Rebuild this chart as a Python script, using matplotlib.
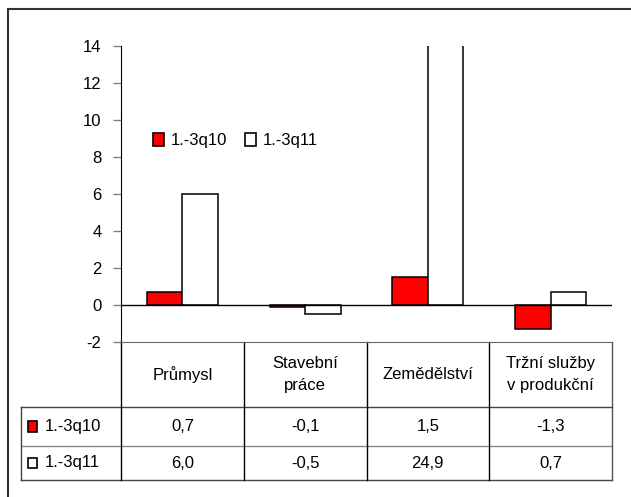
import matplotlib.pyplot as plt
import matplotlib.transforms as mtransforms
from matplotlib.patches import Rectangle
from matplotlib.lines import Line2D
import numpy as np

plt.rcParams['font.family'] = ['Liberation Sans', 'DejaVu Sans']

# data
categories = ["Průmysl", "Stavební\npráce", "Zemědělství", "Tržní služby\nv produkční"]
series_names = ["1.-3q10", "1.-3q11"]
q10 = [0.7, -0.1, 1.5, -1.3]
q11 = [6.0, -0.5, 24.9, 0.7]
y_ticks = [-2, 0, 2, 4, 6, 8, 10, 12, 14]

colors = ["#ff0000", "#ffffff"]
fs = 12

W, H = 631, 497
fig = plt.figure(figsize=(W / 100, H / 100), dpi=100)

# outer frame (right and bottom edges fall outside the picture)
fig.add_artist(Rectangle((8 / W, -0.1), 1.2, 1.1 - 9 / H, transform=fig.transFigure,
                         fill=False, edgecolor="#333333", linewidth=1.5))

ax = fig.add_axes([121 / W, 1 - 342 / H, (612 - 121) / W, (342 - 46) / H])

x = np.arange(len(categories))
bw = 0.29
ax.bar(x - bw / 2, q10, width=bw, color=colors[0], edgecolor="black", linewidth=1.1, zorder=3)
ax.bar(x + bw / 2, q11, width=bw, color=colors[1], edgecolor="black", linewidth=1.1, zorder=3)

ax.set_xlim(-0.5, len(categories) - 0.5)
ax.set_ylim(-2, 14)
ax.set_yticks(y_ticks)
ax.set_yticklabels([str(t) for t in y_ticks], fontsize=fs)
ax.tick_params(axis="y", length=6, width=1, color="#808080", pad=8)
ax.set_xticks([])
ax.axhline(0, color="black", linewidth=1, zorder=4)

for s in ["top", "right"]:
    ax.spines[s].set_visible(False)
ax.spines["left"].set_color("black")
ax.spines["bottom"].set_color("#666666")

# legend inside plot
handles = [Rectangle((0, 0), 1, 1, facecolor=c, edgecolor="black", linewidth=1.2) for c in colors]
ax.legend(handles, series_names, ncol=2, loc="center left", bbox_to_anchor=(0.035, 0.68),
          frameon=False, fontsize=fs, handlelength=0.65, handleheight=0.75,
          handletextpad=0.4, columnspacing=1.1)

# data table under the axes
tr = mtransforms.blended_transform_factory(ax.transData, ax.transAxes)
y_head = -65 / 296
y_r1 = -104 / 296
y_r2 = -138 / 296
x_left = (21 - 121) / 122.75 - 0.5
x_right = len(categories) - 0.5

def hline(y, x0, x1, color):
    ax.add_line(Line2D([x0, x1], [y, y], transform=tr, color=color, linewidth=1, clip_on=False))

def vline(xv, y0, y1, color):
    ax.add_line(Line2D([xv, xv], [y0, y1], transform=tr, color=color, linewidth=1, clip_on=False))

hline(y_head, x_left, x_right, "#444444")
hline(y_r1, x_left, x_right, "#888888")
hline(y_r2, x_left, x_right, "#444444")
vline(x_left, y_head, y_r2, "#444444")
vline(-0.5, 0, y_r2, "black")
for k in range(1, len(categories)):
    vline(k - 0.5, 0, y_r2, "black")
vline(x_right, 0, y_r2, "#555555")

for i, cat in enumerate(categories):
    ax.text(i, y_head / 2, cat, transform=tr, ha="center", va="center", fontsize=fs,
            linespacing=1.55, clip_on=False)

rows = [q10, q11]
row_mid = [(y_head + y_r1) / 2, (y_r1 + y_r2) / 2]
for r, (vals, ym) in enumerate(zip(rows, row_mid)):
    for i, v in enumerate(vals):
        ax.text(i, ym, f"{v:.1f}".replace(".", ","), transform=tr, ha="center", va="center",
                fontsize=fs, clip_on=False)
    # key square + series name
    ax.add_patch(Rectangle((x_left + 0.06, ym - 0.017), 0.07, 0.034, transform=tr,
                           facecolor=colors[r], edgecolor="black", linewidth=1.2, clip_on=False))
    ax.text(x_left + 0.19, ym, series_names[r], transform=tr, ha="left", va="center",
            fontsize=fs, clip_on=False)

fig.savefig("out.png", dpi=100)
